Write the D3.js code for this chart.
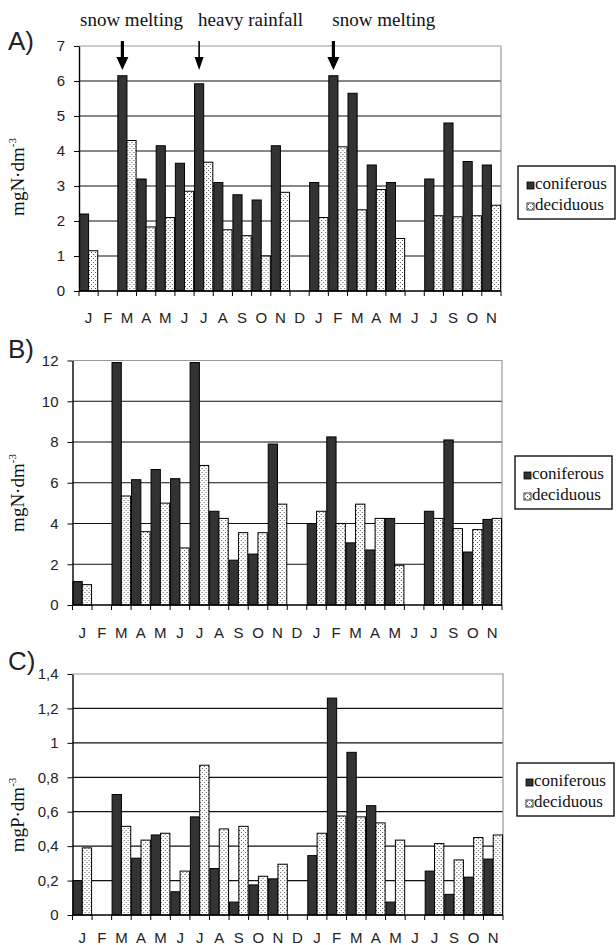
<!DOCTYPE html>
<html>
<head>
<meta charset="utf-8">
<script src="https://cdn.jsdelivr.net/npm/d3@7"></script>
<style>
  body { margin: 0; background: #fff; }
  svg { display: block; }
  .axis text { font-family: "Liberation Sans", Arial, sans-serif; font-size: 15px; fill: #222; }
  .serif { font-family: "Liberation Serif", "Times New Roman", Times, serif; }
  .sans { font-family: "Liberation Sans", Arial, sans-serif; }
</style>
</head>
<body>
<div id="svg-container"></div>
<script>
// month labels, two years of sampling (August missing in year two)
var months = ["J","F","M","A","M","J","J","A","S","O","N","D",
              "J","F","M","A","M","J","J","S","O","N"];
var series = ["coniferous", "deciduous"];

// A) nitrogen, mgN/dm3
var conifA = [2.2, null, 6.15, 3.2, 4.15, 3.65, 5.92, 3.1, 2.75, 2.6, 4.15, null,
              3.1, 6.15, 5.65, 3.6, 3.1, null, 3.2, 4.8, 3.7, 3.6];
var decidA = [1.15, null, 4.3, 1.83, 2.1, 2.85, 3.68, 1.75, 1.58, 1.0, 2.82, null,
              2.1, 4.12, 2.32, 2.9, 1.5, null, 2.15, 2.12, 2.15, 2.45];
var ticksA = [0, 1, 2, 3, 4, 5, 6, 7];
var tickLabelsA = ["0", "1", "2", "3", "4", "5", "6", "7"];

// B) nitrogen, mgN/dm3
var conifB = [1.15, null, 11.9, 6.15, 6.65, 6.2, 11.9, 4.6, 2.2, 2.5, 7.9, null,
              4.0, 8.25, 3.05, 2.7, 4.25, null, 4.6, 8.1, 2.6, 4.2];
var decidB = [1.0, null, 5.35, 3.6, 5.0, 2.8, 6.85, 4.25, 3.55, 3.55, 4.95, null,
              4.6, 4.0, 4.95, 4.25, 1.95, null, 4.25, 3.75, 3.7, 4.25];
var ticksB = [0, 2, 4, 6, 8, 10, 12];
var tickLabelsB = ["0", "2", "4", "6", "8", "10", "12"];

// C) phosphorus, mgP/dm3
var conifC = [0.2, null, 0.7, 0.33, 0.465, 0.135, 0.57, 0.27, 0.075, 0.175, 0.21, null,
              0.345, 1.26, 0.945, 0.635, 0.075, null, 0.255, 0.12, 0.22, 0.325];
var decidC = [0.39, null, 0.515, 0.435, 0.475, 0.255, 0.87, 0.5, 0.515, 0.225, 0.295, null,
              0.475, 0.575, 0.57, 0.535, 0.435, null, 0.415, 0.32, 0.45, 0.465];
var ticksC = [0, 0.2, 0.4, 0.6, 0.8, 1, 1.2, 1.4];
var tickLabelsC = ["0", "0,2", "0,4", "0,6", "0,8", "1", "1,2", "1,4"];

// event annotations above panel A (category index of the arrow)
var events = [
  { label: "snow melting",   cat: 2,  textCat: 0,  heavy: true },
  { label: "heavy rainfall", cat: 6,  textCat: 6,  heavy: false },
  { label: "snow melting",   cat: 13, textCat: 13, heavy: true }
];

var svgWidth = 616, svgHeight = 945;
var darkFill = "#333";

var svg = d3.select("#svg-container")
  .append("svg")
  .attr("width", svgWidth)
  .attr("height", svgHeight);

svg.append("rect").attr("width", svgWidth).attr("height", svgHeight).attr("fill", "#fff");

// dotted fill for deciduous bars
var pat = svg.append("defs").append("pattern")
  .attr("id", "dots")
  .attr("patternUnits", "userSpaceOnUse")
  .attr("width", 4).attr("height", 4);
pat.append("rect").attr("width", 4).attr("height", 4).attr("fill", "#fff");
pat.append("rect").attr("x", 0).attr("y", 0).attr("width", 1).attr("height", 1).attr("fill", "#555");
pat.append("rect").attr("x", 2).attr("y", 2).attr("width", 1).attr("height", 1).attr("fill", "#555");

var panels = [
  { name: "A)", conif: conifA, decid: decidA, ticks: ticksA, tickLabels: tickLabelsA,
    unit: "mgN·dm", left: 79, right: 501, top: 46, bottom: 291, labelOffset: 32,
    titleY: 177, nameY: 50, legendX: 518, legendY: 166 },
  { name: "B)", conif: conifB, decid: decidB, ticks: ticksB, tickLabels: tickLabelsB,
    unit: "mgN·dm", left: 72.5, right: 502, top: 360.5, bottom: 605, labelOffset: 33,
    titleY: 493, nameY: 358, legendX: 515, legendY: 456 },
  { name: "C)", conif: conifC, decid: decidC, ticks: ticksC, tickLabels: tickLabelsC,
    unit: "mgP·dm", left: 72.5, right: 503, top: 674, bottom: 915, labelOffset: 28,
    titleY: 815, nameY: 670, legendX: 517, legendY: 763 }
];

panels.forEach(drawPanel);

function drawPanel(p) {
  var x = d3.scaleBand()
    .domain(d3.range(months.length))
    .range([p.left, p.right]);

  var xs = d3.scaleBand()
    .domain(series)
    .range([0, x.bandwidth()])
    .paddingOuter(0.05);

  var yMax = p.ticks[p.ticks.length - 1];
  var y = d3.scaleLinear()
    .domain([0, yMax])
    .range([p.bottom, p.top]);

  var g = svg.append("g");

  // horizontal gridlines
  g.selectAll("line.grid")
    .data(p.ticks.slice(1, -1))
    .enter().append("line")
    .attr("x1", p.left).attr("x2", p.right)
    .attr("y1", function(d) { return y(d); })
    .attr("y2", function(d) { return y(d); })
    .attr("stroke", "#111")
    .attr("stroke-width", 1.2);

  // grey plot frame on top and right
  g.append("path")
    .attr("d", "M" + p.left + "," + y(yMax) + "H" + p.right + "V" + y(0))
    .attr("fill", "none")
    .attr("stroke", "#999")
    .attr("stroke-width", 1.2);

  // bars
  var rows = months.map(function(m, i) {
    return { i: i, values: [
      { key: "coniferous", v: p.conif[i] },
      { key: "deciduous",  v: p.decid[i] }
    ] };
  });

  g.selectAll("g.cat")
    .data(rows)
    .enter().append("g")
    .attr("transform", function(d) { return "translate(" + x(d.i) + ",0)"; })
    .selectAll("rect")
    .data(function(d) { return d.values.filter(function(s) { return s.v != null; }); })
    .enter().append("rect")
    .attr("x", function(d) { return xs(d.key); })
    .attr("y", function(d) { return y(d.v); })
    .attr("width", xs.bandwidth())
    .attr("height", function(d) { return y(0) - y(d.v); })
    .attr("fill", function(d) { return d.key === "coniferous" ? darkFill : "url(#dots)"; })
    .attr("stroke", "#000")
    .attr("stroke-width", 1);

  // y axis
  var yAxis = d3.axisLeft(y)
    .tickValues(p.ticks)
    .tickFormat(function(d, i) { return p.tickLabels[i]; })
    .tickSize(5)
    .tickSizeOuter(0)
    .tickPadding(9);

  var ya = svg.append("g")
    .attr("class", "axis")
    .attr("transform", "translate(" + p.left + ",0)")
    .call(yAxis);
  ya.attr("font-family", null).attr("font-size", null);
  ya.select(".domain").attr("stroke", "#000").attr("stroke-width", 1.4);
  ya.selectAll(".tick line").attr("stroke", "#000");

  // x axis: baseline, ticks at category boundaries, month letters
  var xa = svg.append("g").attr("class", "axis");
  xa.append("line")
    .attr("x1", p.left).attr("x2", p.right)
    .attr("y1", y(0)).attr("y2", y(0))
    .attr("stroke", "#000").attr("stroke-width", 1.4);
  xa.selectAll("line.tk")
    .data(d3.range(months.length + 1))
    .enter().append("line")
    .attr("x1", function(i) { return p.left + i * x.step(); })
    .attr("x2", function(i) { return p.left + i * x.step(); })
    .attr("y1", y(0)).attr("y2", y(0) + 5)
    .attr("stroke", "#000");
  xa.selectAll("text")
    .data(months)
    .enter().append("text")
    .attr("x", function(d, i) { return x(i) + x.bandwidth() / 2; })
    .attr("y", y(0) + p.labelOffset)
    .attr("text-anchor", "middle")
    .text(function(d) { return d; });

  // panel letter
  svg.append("text")
    .attr("class", "sans")
    .attr("x", 8).attr("y", p.nameY)
    .attr("font-size", 26)
    .attr("fill", "#222")
    .text(p.name);

  // y title with superscript
  var t = svg.append("text")
    .attr("class", "serif")
    .attr("transform", "translate(24," + p.titleY + ") rotate(-90)")
    .attr("text-anchor", "middle")
    .attr("font-size", 19)
    .attr("fill", "#111");
  t.append("tspan").text(p.unit);
  t.append("tspan").attr("dy", -8).attr("font-size", 11).text("-3");

  // legend
  var lg = svg.append("g").attr("transform", "translate(" + p.legendX + "," + p.legendY + ")");
  lg.append("rect")
    .attr("width", 97).attr("height", 53)
    .attr("fill", "#fff").attr("stroke", "#111").attr("stroke-width", 1.4);
  series.forEach(function(s, k) {
    lg.append("rect")
      .attr("x", 9).attr("y", 16 + k * 21)
      .attr("width", 7).attr("height", 7)
      .attr("fill", k === 0 ? darkFill : "url(#dots)")
      .attr("stroke", "#000").attr("stroke-width", 0.8);
    lg.append("text")
      .attr("class", "serif")
      .attr("x", 17).attr("y", 23 + k * 21)
      .attr("font-size", 17)
      .attr("fill", "#111")
      .text(s);
  });

  // event arrows and labels only on panel A
  if (p.name === "A)") {
    events.forEach(function(e) {
      var ax = x(e.cat) + xs("coniferous") + xs.bandwidth() / 2;
      var w = e.heavy ? 1.6 : 0.8;       // half shaft width
      var hw = e.heavy ? 6 : 4.5;        // half head width
      var y0 = p.top - 5, yh = p.top + 11, yt = p.top + 24;
      svg.append("path")
        .attr("d", "M" + (ax - w) + "," + y0 + "V" + yh + "H" + (ax - hw) +
                   "L" + ax + "," + yt + "L" + (ax + hw) + "," + yh +
                   "H" + (ax + w) + "V" + y0 + "Z")
        .attr("fill", "#000");
      svg.append("text")
        .attr("class", "serif")
        .attr("x", x(e.textCat) + (e.textCat === 0 ? 1 : 4))
        .attr("y", p.top - 20)
        .attr("font-size", 19)
        .attr("fill", "#111")
        .text(e.label);
    });
  }
}
</script>
</body>
</html>
